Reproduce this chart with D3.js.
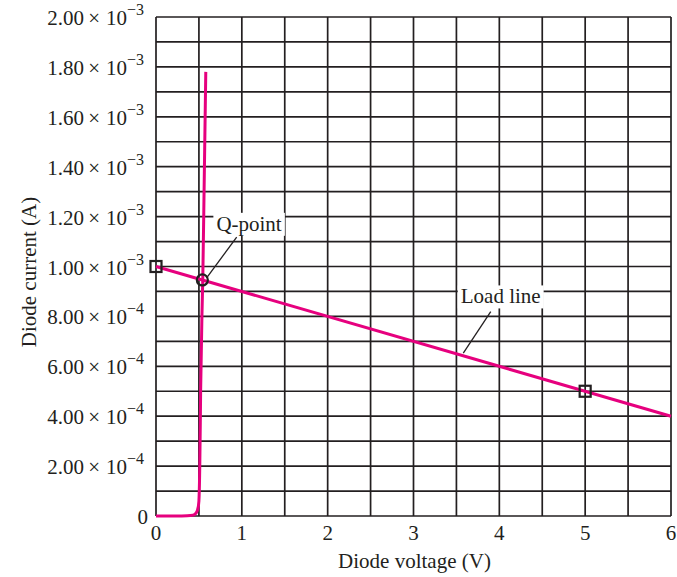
<!DOCTYPE html>
<html><head><meta charset="utf-8">
<script src="https://cdn.jsdelivr.net/npm/d3@7"></script>
<style>body{margin:0;background:#fff}svg{display:block}text{font-family:"Liberation Serif","Times New Roman",serif;fill:#231f20}</style>
</head><body><svg id="c" width="677" height="577"></svg>
<script>
// Data
const xTicks = [0,1,2,3,4,5,6];
const yTicks = [0,0.0002,0.0004,0.0006,0.0008,0.0010,0.0012,0.0014,0.0016,0.0018,0.0020];
const yTickMantissa = ["0","2.00","4.00","6.00","8.00","1.00","1.20","1.40","1.60","1.80","2.00"];
const yTickExponent = ["","−4","−4","−4","−4","−3","−3","−3","−3","−3","−3"];
const xGrid = [0,0.5,1,1.5,2,2.5,3,3.5,4,4.5,5,5.5,6];
const yGrid = [0,0.0001,0.0002,0.0003,0.0004,0.0005,0.0006,0.0007,0.0008,0.0009,0.0010,0.0011,0.0012,0.0013,0.0014,0.0015,0.0016,0.0017,0.0018,0.0019,0.0020];
const diodeV = [0,0.30,0.40,0.45,0.48,0.50,0.51,0.52,0.535,0.545,0.56,0.58];
const diodeI = [0,0.0000005,0.000002,0.000006,0.00002,0.00006,0.0002,0.0005,0.0008,0.00095,0.0013,0.00178];
const loadV = [0,6];
const loadI = [0.0010,0.0004];
const squarePts = [[0,0.0010],[5,0.0005]];
const qPoint = [0.54,0.000946];
const labels = [
  {text:"Q-point", x:1.084, y:0.001143, from:[0.94,0.001118], to:[0.59,0.000954]},
  {text:"Load line", x:4.016, y:0.000852, from:[3.90,0.000819], to:[3.58,0.000653]}
];

const svg = d3.select("#c");
const L=156, R=671, T=17, B=516;
const x = d3.scaleLinear().domain([0,6]).range([L,R]);
const y = d3.scaleLinear().domain([0,0.002]).range([B,T]);
const ink="#231f20", pink="#e6007e";

const g = svg.append("g");
g.selectAll(".vg").data(xGrid).join("line")
  .attr("x1",d=>x(d)).attr("x2",d=>x(d)).attr("y1",T).attr("y2",B)
  .attr("stroke",ink).attr("stroke-width",1.7);
g.selectAll(".hg").data(yGrid).join("line")
  .attr("y1",d=>y(d)).attr("y2",d=>y(d)).attr("x1",L).attr("x2",R)
  .attr("stroke",ink).attr("stroke-width",1.7);

// x tick labels
svg.selectAll(".xt").data(xTicks).join("text")
  .attr("x",d=>x(d)).attr("y",B+24).attr("text-anchor","middle")
  .attr("font-size",21).text(d=>d);

// y tick labels
yTicks.forEach((v,i)=>{
  const isZero = yTickExponent[i]==="";
  const t = svg.append("text").attr("x",isZero?148:144).attr("y",y(v)+8).attr("text-anchor","end").attr("font-size",21);
  if(isZero){ t.text(yTickMantissa[i]); }
  else{
    t.append("tspan").text(yTickMantissa[i]+"\u2009×\u2009\u200A10");
    t.append("tspan").attr("dy",-10).attr("font-size",16).text(yTickExponent[i]);
  }
});

// axis titles
svg.append("text").attr("x",x(3)+1).attr("y",568).attr("text-anchor","middle").attr("font-size",21).text("Diode voltage (V)");
svg.append("text").attr("transform",`translate(36,272) rotate(-90)`).attr("text-anchor","middle").attr("font-size",21).text("Diode current (A)");

// load line
svg.append("path").datum(loadV.map((v,i)=>[v,loadI[i]]))
  .attr("d",d3.line().x(d=>x(d[0])).y(d=>y(d[1])))
  .attr("fill","none").attr("stroke",pink).attr("stroke-width",3);
// diode curve
svg.append("path").datum(diodeV.map((v,i)=>[v,diodeI[i]]))
  .attr("d",d3.line().x(d=>x(d[0])).y(d=>y(d[1])).curve(d3.curveMonotoneY))
  .attr("fill","none").attr("stroke",pink).attr("stroke-width",3);

// markers
svg.selectAll(".sq").data(squarePts).join("rect")
  .attr("x",d=>x(d[0])-5.5).attr("y",d=>y(d[1])-5.5).attr("width",11).attr("height",11)
  .attr("fill","none").attr("stroke",ink).attr("stroke-width",2.2);
svg.append("circle").attr("cx",x(qPoint[0])).attr("cy",y(qPoint[1])).attr("r",5.5)
  .attr("fill","none").attr("stroke",ink).attr("stroke-width",2.2);

// labels
labels.forEach(l=>{
  svg.append("line").attr("x1",x(l.from[0])).attr("y1",y(l.from[1])).attr("x2",x(l.to[0])).attr("y2",y(l.to[1]))
    .attr("stroke",ink).attr("stroke-width",1.3);
  const t = svg.append("text").attr("x",x(l.x)).attr("y",y(l.y)).attr("text-anchor","middle").attr("font-size",21).text(l.text);
  const bb = t.node().getBBox();
  svg.insert("rect", () => t.node()).attr("x",bb.x-3).attr("y",bb.y+1).attr("width",bb.width+6).attr("height",bb.height-1).attr("fill","#fff");
});
</script></body></html>
